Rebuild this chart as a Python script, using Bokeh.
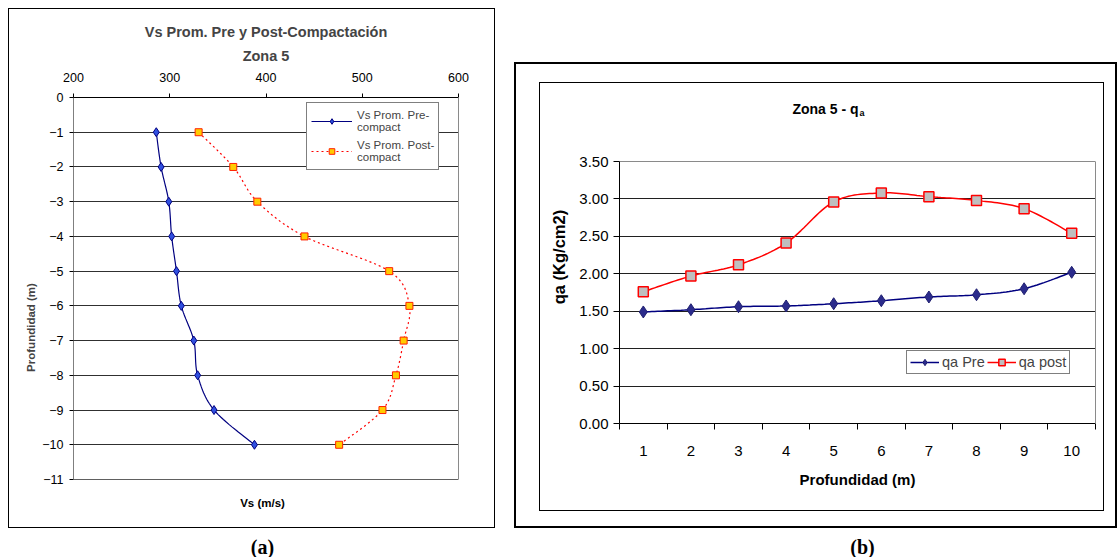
import numpy as np
from bokeh.plotting import figure
from bokeh.models import (Range1d, FixedTicker, Label, Legend, LegendItem, Title,
                          NumeralTickFormatter, LinearAxis, Grid)
from bokeh.layouts import row, column
from bokeh.embed import file_html
from bokeh.resources import INLINE

# ---------------- data ----------------
depth = [-1, -2, -3, -4, -5, -6, -7, -8, -9, -10]
vs_pre = [286, 291, 299, 302, 307, 312, 325, 329, 346, 388]
vs_post = [330, 366, 391, 440, 528, 549, 543, 535, 521, 476]
vs_ticks = [200, 300, 400, 500, 600]
depth_ticks = [0, -1, -2, -3, -4, -5, -6, -7, -8, -9, -10, -11]

prof = [1, 2, 3, 4, 5, 6, 7, 8, 9, 10]
qa_pre = [1.49, 1.52, 1.56, 1.57, 1.60, 1.64, 1.69, 1.72, 1.80, 2.02]
qa_post = [1.76, 1.97, 2.12, 2.41, 2.96, 3.08, 3.03, 2.98, 2.87, 2.54]
qa_ticks = [0, 0.5, 1.0, 1.5, 2.0, 2.5, 3.0, 3.5]
prof_bounds = [0.5, 1.5, 2.5, 3.5, 4.5, 5.5, 6.5, 7.5, 8.5, 9.5, 10.5]

ARIAL = "Liberation Sans"
SERIF = "Liberation Serif"

H = 557            # total canvas height
H2 = 530           # height of chart (b) canvas; caption strip below it
W1, W2 = 505, 614  # canvas widths


def smooth(xs, ys, n=16):
    """Excel-like smoothed line (Catmull-Rom Bezier) through the data points."""
    xs = np.asarray(xs, float)
    ys = np.asarray(ys, float)
    px = np.concatenate([[xs[0]], xs, [xs[-1]]])
    py = np.concatenate([[ys[0]], ys, [ys[-1]]])
    ox, oy = [], []
    t = np.linspace(0, 1, n, endpoint=False)
    for i in range(1, len(px) - 2):
        p0 = np.array([px[i - 1], py[i - 1]])
        p1 = np.array([px[i], py[i]])
        p2 = np.array([px[i + 1], py[i + 1]])
        p3 = np.array([px[i + 2], py[i + 2]])
        c1 = p1 + (p2 - p0) / 6.0
        c2 = p2 - (p3 - p1) / 6.0
        for tt in t:
            b = ((1 - tt) ** 3) * p1 + 3 * ((1 - tt) ** 2) * tt * c1 + 3 * (1 - tt) * tt ** 2 * c2 + tt ** 3 * p2
            ox.append(b[0])
            oy.append(b[1])
    ox.append(xs[-1])
    oy.append(ys[-1])
    return ox, oy


def lbl(p, x, y, text, size, bold=True, font=ARIAL, align="center", angle=0.0, baseline="middle"):
    p.add_layout(Label(x=x, y=y, x_units="screen", y_units="screen", text=text,
                       text_font=font, text_font_size=size,
                       text_font_style="bold" if bold else "normal",
                       text_align=align, text_baseline=baseline, angle=angle,
                       text_color="black"))


def rect_css(x0, y0, x1, y1, w=1, color="#000"):
    g = f"linear-gradient({color},{color})"
    return [f"{g} {x0}px {y0}px / {x1 - x0 + w}px {w}px no-repeat",
            f"{g} {x0}px {y1}px / {x1 - x0 + w}px {w}px no-repeat",
            f"{g} {x0}px {y0}px / {w}px {y1 - y0 + w}px no-repeat",
            f"{g} {x1}px {y0}px / {w}px {y1 - y0 + w}px no-repeat"]


def no_align(p):
    if "frame_align" in p.properties():
        p.frame_align = False


def bare_axis(bounds, color):
    return LinearAxis(bounds=bounds, ticker=FixedTicker(ticks=[]), axis_line_color=color,
                      major_tick_line_color=None, minor_tick_line_color=None,
                      major_label_text_font_size="0px", major_tick_out=0, minor_tick_out=0)


# ---------------- left chart (a) ----------------
# frame: page x 73..458, y 97..H ; depth 0 at y=97, -11 at y=479
ppu_a = (479 - 97) / 11.0
p1 = figure(width=W1, height=H, x_range=Range1d(200, 600),
            y_range=Range1d(-11 - (H - 479) / ppu_a, 0),
            x_axis_location="above", output_backend="svg", toolbar_location=None,
            min_border_left=73, min_border_right=W1 - 458, min_border_top=97, min_border_bottom=0)
no_align(p1)
p1.background_fill_color = None
p1.border_fill_color = None
p1.outline_line_color = None

xa1 = p1.xaxis[0]
xa1.ticker = FixedTicker(ticks=vs_ticks)
xa1.major_label_standoff = 12
ya1 = p1.yaxis[0]
ya1.ticker = FixedTicker(ticks=depth_ticks)
ya1.axis_line_color = None
ya1.major_label_standoff = 6
ya1.axis_label = "Profundidad (m)"
ya1.axis_label_text_font = ARIAL
ya1.axis_label_text_font_size = "11.5px"
ya1.axis_label_text_font_style = "bold"
ya1.axis_label_standoff = 2
for ax in (xa1, ya1):
    ax.major_tick_line_color = "black"
    ax.major_tick_out = 4
    ax.major_tick_in = 0
    ax.minor_tick_line_color = None
    ax.major_label_text_font = ARIAL
    ax.major_label_text_font_size = "12.5px"
    ax.major_label_text_color = "black"
xa1.axis_line_color = "black"
left_line = bare_axis((-11, 0), "black")
left_line.fixed_location = 200
p1.add_layout(left_line, "left")
p1.add_layout(bare_axis((-11, 0), "#8a8a8a"), "right")

p1.xgrid.visible = False
p1.ygrid.ticker = FixedTicker(ticks=depth_ticks[1:-1])
p1.ygrid.grid_line_color = "#303030"
p1.add_layout(Grid(dimension=1, ticker=FixedTicker(ticks=[depth_ticks[-1]]),
                   grid_line_color="#606060"))

sx, sy = smooth(vs_pre, depth)
l_pre = p1.line(sx, sy, line_color="#000080", line_width=1.2)
m_pre = p1.scatter(vs_pre, depth, marker="diamond", size=9, fill_color="#3050E0",
                   line_color="#000080", line_width=1)
sx, sy = smooth(vs_post, depth)
l_post = p1.line(sx, sy, line_color="#FF0000", line_width=1.2, line_dash="2 3")
m_post = p1.scatter(vs_post, depth, marker="square", size=7, fill_color="#FFCC00",
                    line_color="#FF2000", line_width=1)

leg1 = Legend(items=[LegendItem(label="Vs Prom. Pre-\ncompact", renderers=[l_pre, m_pre]),
                     LegendItem(label="Vs Prom. Post-\ncompact", renderers=[l_post, m_post])],
              location=(233, H - 170), border_line_color="black", border_line_width=1,
              background_fill_color="white", background_fill_alpha=1,
              label_text_font=ARIAL, label_text_font_size="11.5px",
              glyph_width=41, glyph_height=14, label_standoff=5, padding=4, spacing=2,
              margin=0, label_height=28)
p1.add_layout(leg1)

p1.add_layout(Title(text="Zona 5", align="center", text_font=ARIAL, text_font_size="14.5px",
                    text_font_style="bold", standoff=11), "above")
p1.add_layout(Title(text="Vs Prom. Pre y Post-Compactación", align="center", text_font=ARIAL,
                    text_font_size="14.5px", text_font_style="bold", standoff=1), "above")

# frame-relative screen coordinates: sx = page_x - 73, sy = H - page_y
lbl(p1, 189, H - 502, "Vs (m/s)", "11.5px")
lbl(p1, 189, H - 546, "(a)", "20px", font=SERIF)
p1.styles = {"background": ", ".join(rect_css(8, 8, 494, 527, 1))}

# ---------------- right chart (b) ----------------
# canvas starts at page x = W1 ; frame page x 619..1095, y 90..423 ; 3.5 at y=161
ppu_b = (423 - 161) / 3.5
p2 = figure(width=W2, height=H2, x_range=Range1d(prof_bounds[0], prof_bounds[-1]),
            y_range=Range1d(0, 3.5 + (161 - 90) / ppu_b),
            output_backend="svg", toolbar_location=None,
            min_border_left=619 - W1, min_border_right=W2 - (1095 - W1),
            min_border_top=90, min_border_bottom=H2 - 423)
no_align(p2)
p2.background_fill_color = None
p2.border_fill_color = None
p2.outline_line_color = None

xa = p2.xaxis[0]
xa.ticker = FixedTicker(ticks=prof, minor_ticks=prof_bounds)
xa.major_tick_line_color = None
xa.major_tick_out = 0
xa.major_tick_in = 0
xa.minor_tick_line_color = "black"
xa.minor_tick_out = 6
xa.minor_tick_in = 0
xa.major_label_standoff = 16
xa.axis_label = "Profundidad (m)"
xa.axis_label_standoff = 12
ya = p2.yaxis[0]
ya.ticker = FixedTicker(ticks=qa_ticks)
ya.bounds = (0, 3.5)
ya.formatter = NumeralTickFormatter(format="0.00")
ya.major_tick_out = 6
ya.major_tick_in = 0
ya.minor_tick_line_color = None
ya.major_label_standoff = 5
ya.axis_label = "qa (Kg/cm2)"
ya.axis_label_standoff = 8
for ax in (xa, ya):
    ax.axis_line_color = "black"
    ax.major_label_text_font = ARIAL
    ax.major_label_text_font_size = "15px"
    ax.major_label_text_color = "black"
    ax.axis_label_text_font = ARIAL
    ax.axis_label_text_font_style = "bold"
    ax.axis_label_text_font_size = "15px"
    ax.axis_label_text_color = "black"
ya.axis_label_text_font_size = "16.5px"
p2.add_layout(bare_axis((0, 3.5), "#8a8a8a"), "right")

p2.xgrid.visible = False
p2.ygrid.ticker = FixedTicker(ticks=qa_ticks[1:-1])
p2.ygrid.grid_line_color = "#202020"
p2.add_layout(Grid(dimension=1, ticker=FixedTicker(ticks=[qa_ticks[-1]]),
                   grid_line_color="#8a8a8a"))

sx, sy = smooth(prof, qa_pre)
r_pre_l = p2.line(sx, sy, line_color="#000080", line_width=1.5)
r_pre_m = p2.scatter(prof, qa_pre, marker="diamond", size=12, fill_color="#2B2B8C",
                     line_color="#202070", line_width=1)
sx, sy = smooth(prof, qa_post)
r_post_l = p2.line(sx, sy, line_color="#FF0000", line_width=1.5)
r_post_m = p2.scatter(prof, qa_post, marker="square", size=10, fill_color="#BFBFBF",
                      line_color="#FF0000", line_width=1.5)

leg2 = Legend(items=[LegendItem(label="qa Pre", renderers=[r_pre_l, r_pre_m]),
                     LegendItem(label="qa post", renderers=[r_post_l, r_post_m])],
              orientation="horizontal", location=(287, 423 - 374),
              border_line_color="black", border_line_width=1,
              background_fill_color="white", background_fill_alpha=1,
              label_text_font=ARIAL, label_text_font_size="14.5px",
              glyph_width=29, glyph_height=16, label_standoff=3, padding=3, spacing=2,
              margin=0, label_width=0)
p2.add_layout(leg2)

# frame-relative screen coordinates: sx = page_x - 619, sy = 423 - page_y
lbl(p2, 858 - 619, 423 - 108, "Zona 5 - q", "14px", align="right")
lbl(p2, 859 - 619, 423 - 112, "a", "9px", align="left")

p2.styles = {"background": ", ".join(
    rect_css(514 - W1, 62, 1115 - W1, 526, 2) + rect_css(539 - W1, 82, 1103 - W1, 510, 1))}

# caption strip under chart (b)
p3 = figure(width=W2, height=H - H2, x_axis_type=None, y_axis_type=None,
            output_backend="svg", toolbar_location=None,
            min_border_left=0, min_border_right=0, min_border_top=0, min_border_bottom=0)
no_align(p3)
p3.background_fill_color = None
p3.border_fill_color = None
p3.outline_line_color = None
p3.xgrid.visible = False
p3.ygrid.visible = False
lbl(p3, 862 - W1, H - 546, "(b)", "20px", font=SERIF)

layout = row(p1, column(p2, p3))
open("out.html", "w").write(file_html(layout, INLINE))
